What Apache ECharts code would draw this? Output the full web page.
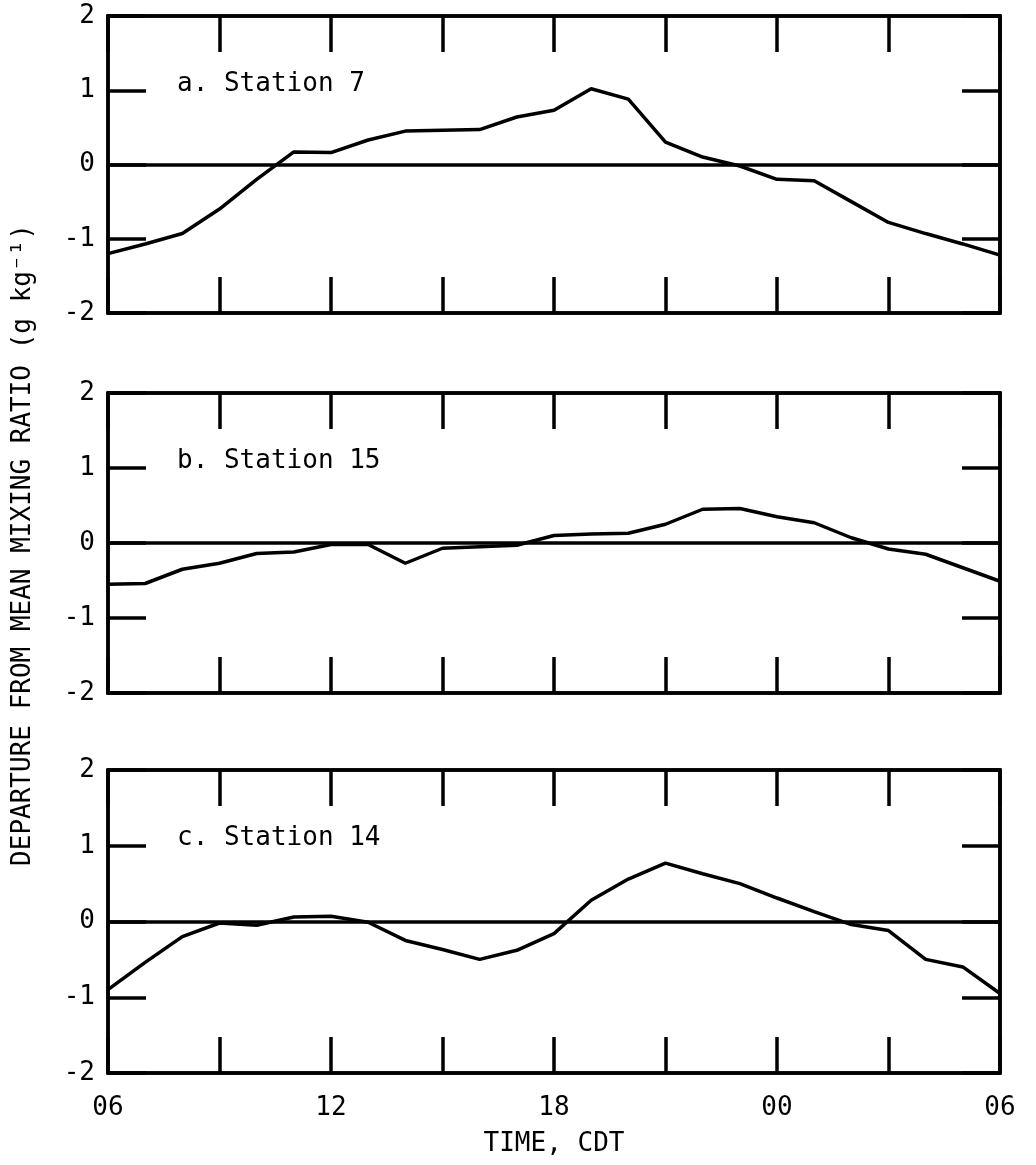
<!DOCTYPE html>
<html>
<head>
<meta charset="utf-8">
<script src="https://cdn.jsdelivr.net/npm/echarts@6/dist/echarts.min.js"></script>
<style>
  html, body { margin: 0; padding: 0; background: #fff; }
  #chart { width: 1036px; height: 1165px; }
</style>
</head>
<body>
<div id="chart"></div>
<script>
// Hours after 06 CDT
const hours = [0,1,2,3,4,5,6,7,8,9,10,11,12,13,14,15,16,17,18,19,20,21,22,23,24];
// Departure from mean mixing ratio (g/kg)
const station7  = [-1.2,-1.07,-0.93,-0.6,-0.2,0.17,0.16,0.33,0.45,0.46,0.47,0.64,0.73,1.02,0.88,0.3,0.1,-0.02,-0.2,-0.22,-0.5,-0.78,-0.93,-1.07,-1.22];
const station15 = [-0.55,-0.54,-0.35,-0.27,-0.14,-0.12,-0.02,-0.02,-0.27,-0.07,-0.05,-0.03,0.1,0.12,0.13,0.25,0.45,0.46,0.35,0.27,0.07,-0.08,-0.15,-0.33,-0.51];
const station14 = [-0.9,-0.54,-0.2,-0.02,-0.05,0.06,0.07,-0.01,-0.25,-0.37,-0.5,-0.38,-0.16,0.28,0.56,0.77,0.63,0.5,0.31,0.13,-0.04,-0.12,-0.5,-0.6,-0.95];
const panelLabels = ['a. Station 7', 'b. Station 15', 'c. Station 14'];
const xTickLabels = {0:'06', 6:'12', 12:'18', 18:'00', 24:'06'};

const FONT = 'DejaVu Sans Mono';
const seriesData = [station7, station15, station14];
const gridTops = [16, 393, 770];
const gridHs = [297, 300, 303];
const LW = 3.5;

const grids = [], xAxes = [], yAxes = [], series = [], titles = [];
seriesData.forEach((vals, i) => {
  grids.push({left: 108, right: 36, top: gridTops[i], height: gridHs[i],
    show: true, borderColor: '#000', borderWidth: LW, backgroundColor: 'transparent'});
  const isLast = i === 2;
  xAxes.push({type: 'value', gridIndex: i, min: 0, max: 24, interval: 3, position: 'bottom',
    axisLine: {show: true, onZero: false, lineStyle: {color: '#000', width: LW}},
    axisTick: {show: true, inside: true, length: 36, lineStyle: {color: '#000', width: LW}},
    splitLine: {show: false},
    axisLabel: {show: isLast, margin: 22, color: '#000', fontFamily: FONT, fontSize: 26,
      formatter: v => (xTickLabels[v] !== undefined ? xTickLabels[v] : '')},
    name: isLast ? 'TIME, CDT' : '', nameLocation: 'middle', nameGap: 58,
    nameTextStyle: {color: '#000', fontFamily: FONT, fontSize: 26}
  });
  xAxes.push({type: 'value', gridIndex: i, min: 0, max: 24, interval: 3, position: 'top',
    axisLine: {show: true, onZero: false, lineStyle: {color: '#000', width: LW}},
    axisTick: {show: true, inside: true, length: 36, lineStyle: {color: '#000', width: LW}},
    splitLine: {show: false}, axisLabel: {show: false}
  });
  yAxes.push({type: 'value', gridIndex: i, min: -2, max: 2, interval: 1, position: 'left',
    axisLine: {show: true, onZero: false, lineStyle: {color: '#000', width: LW}},
    axisTick: {show: true, inside: true, length: 38, lineStyle: {color: '#000', width: LW}},
    splitLine: {show: false},
    axisLabel: {show: true, margin: 13, color: '#000', fontFamily: FONT, fontSize: 26,
      formatter: v => String(v)}
  });
  yAxes.push({type: 'value', gridIndex: i, min: -2, max: 2, interval: 1, position: 'right',
    axisLine: {show: true, onZero: false, lineStyle: {color: '#000', width: LW}},
    axisTick: {show: true, inside: true, length: 38, lineStyle: {color: '#000', width: LW}},
    splitLine: {show: false}, axisLabel: {show: false}
  });
  series.push({type: 'line', xAxisIndex: i * 2, yAxisIndex: i * 2,
    data: hours.map((h, k) => [h, vals[k]]),
    symbol: 'none', smooth: false, animation: false,
    lineStyle: {color: '#000', width: LW},
    markLine: {silent: true, symbol: 'none', label: {show: false}, animation: false,
      lineStyle: {color: '#000', width: LW, type: 'solid'},
      data: [{yAxis: 0}]}
  });
  titles.push({text: panelLabels[i], left: 172, top: gridTops[i] + 50,
    textStyle: {color: '#000', fontFamily: FONT, fontSize: 26, fontWeight: 'normal'}});
});

const chart = echarts.init(document.getElementById('chart'), null, {renderer: 'canvas'});
chart.setOption({
  backgroundColor: '#fff',
  animation: false,
  title: titles,
  grid: grids,
  xAxis: xAxes,
  yAxis: yAxes,
  series: series,
  graphic: [{
    type: 'text', x: 23, y: 545, rotation: Math.PI / 2,
    style: {text: 'DEPARTURE FROM MEAN MIXING RATIO (g kg\u207B\u00B9)', fill: '#000',
      font: '26px "DejaVu Sans Mono"', textAlign: 'center', textVerticalAlign: 'middle'}
  }]
});
</script>
</body>
</html>
